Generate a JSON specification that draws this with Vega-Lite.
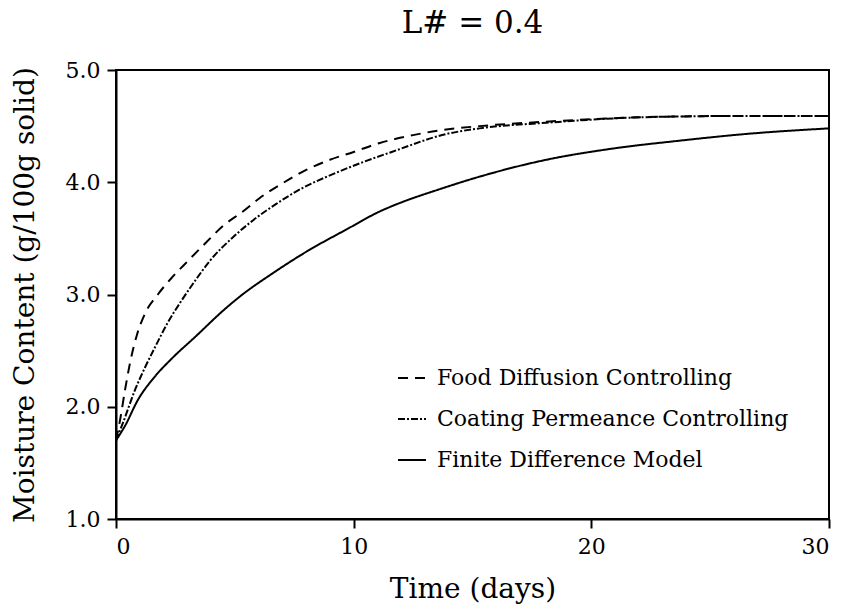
{
  "$schema": "https://vega.github.io/schema/vega-lite/v6.json",
  "width": 713,
  "height": 449,
  "autosize": {"type": "none"},
  "padding": {"left": 116, "top": 70, "right": 20, "bottom": 92},
  "background": "white",
  "title": {
    "text": "L# = 0.4",
    "font": "DejaVu Serif",
    "fontSize": 31,
    "fontWeight": "normal",
    "color": "black",
    "offset": 19
  },
  "config": {
    "view": {"stroke": "black", "strokeWidth": 2},
    "axis": {
      "grid": false,
      "domainColor": "black",
      "domainWidth": 2,
      "tickColor": "black",
      "tickWidth": 2,
      "tickSize": 9,
      "labelFont": "DejaVu Serif",
      "labelFontSize": 22,
      "labelColor": "black",
      "titleFont": "DejaVu Serif",
      "titleFontSize": 28,
      "titleFontWeight": "normal",
      "titleColor": "black"
    }
  },
  "data": {
    "values": [
      {"model": "Food Diffusion Controlling", "t": 0, "m": 1.70},
      {"model": "Food Diffusion Controlling", "t": 0.17, "m": 1.88},
      {"model": "Food Diffusion Controlling", "t": 0.38, "m": 2.15},
      {"model": "Food Diffusion Controlling", "t": 0.59, "m": 2.39},
      {"model": "Food Diffusion Controlling", "t": 0.88, "m": 2.64},
      {"model": "Food Diffusion Controlling", "t": 1.22, "m": 2.83},
      {"model": "Food Diffusion Controlling", "t": 1.76, "m": 3.00},
      {"model": "Food Diffusion Controlling", "t": 2.35, "m": 3.15},
      {"model": "Food Diffusion Controlling", "t": 3.03, "m": 3.30},
      {"model": "Food Diffusion Controlling", "t": 3.82, "m": 3.47},
      {"model": "Food Diffusion Controlling", "t": 4.5, "m": 3.61},
      {"model": "Food Diffusion Controlling", "t": 5.34, "m": 3.74},
      {"model": "Food Diffusion Controlling", "t": 6.05, "m": 3.86},
      {"model": "Food Diffusion Controlling", "t": 7.0, "m": 3.99},
      {"model": "Food Diffusion Controlling", "t": 8.0, "m": 4.11},
      {"model": "Food Diffusion Controlling", "t": 9.0, "m": 4.20},
      {"model": "Food Diffusion Controlling", "t": 10.0, "m": 4.27},
      {"model": "Food Diffusion Controlling", "t": 11.1, "m": 4.35},
      {"model": "Food Diffusion Controlling", "t": 12.5, "m": 4.42},
      {"model": "Food Diffusion Controlling", "t": 13.9, "m": 4.47},
      {"model": "Food Diffusion Controlling", "t": 15.3, "m": 4.50},
      {"model": "Food Diffusion Controlling", "t": 18.1, "m": 4.54},
      {"model": "Food Diffusion Controlling", "t": 22.3, "m": 4.58},
      {"model": "Food Diffusion Controlling", "t": 26.0, "m": 4.59},
      {"model": "Food Diffusion Controlling", "t": 30.0, "m": 4.59},
      {"model": "Coating Permeance Controlling", "t": 0, "m": 1.70},
      {"model": "Coating Permeance Controlling", "t": 0.3, "m": 1.86},
      {"model": "Coating Permeance Controlling", "t": 0.8, "m": 2.15},
      {"model": "Coating Permeance Controlling", "t": 1.22, "m": 2.35},
      {"model": "Coating Permeance Controlling", "t": 1.64, "m": 2.53},
      {"model": "Coating Permeance Controlling", "t": 2.18, "m": 2.75},
      {"model": "Coating Permeance Controlling", "t": 2.77, "m": 2.95},
      {"model": "Coating Permeance Controlling", "t": 3.32, "m": 3.12},
      {"model": "Coating Permeance Controlling", "t": 3.95, "m": 3.30},
      {"model": "Coating Permeance Controlling", "t": 4.92, "m": 3.51},
      {"model": "Coating Permeance Controlling", "t": 5.76, "m": 3.66},
      {"model": "Coating Permeance Controlling", "t": 6.76, "m": 3.81},
      {"model": "Coating Permeance Controlling", "t": 7.86, "m": 3.95},
      {"model": "Coating Permeance Controlling", "t": 9.1, "m": 4.07},
      {"model": "Coating Permeance Controlling", "t": 10.4, "m": 4.18},
      {"model": "Coating Permeance Controlling", "t": 11.6, "m": 4.27},
      {"model": "Coating Permeance Controlling", "t": 13.9, "m": 4.43},
      {"model": "Coating Permeance Controlling", "t": 15.3, "m": 4.48},
      {"model": "Coating Permeance Controlling", "t": 18.1, "m": 4.53},
      {"model": "Coating Permeance Controlling", "t": 22.3, "m": 4.58},
      {"model": "Coating Permeance Controlling", "t": 26.0, "m": 4.59},
      {"model": "Coating Permeance Controlling", "t": 30.0, "m": 4.59},
      {"model": "Finite Difference Model", "t": 0, "m": 1.70},
      {"model": "Finite Difference Model", "t": 0.38, "m": 1.83},
      {"model": "Finite Difference Model", "t": 0.92, "m": 2.06},
      {"model": "Finite Difference Model", "t": 1.64, "m": 2.27},
      {"model": "Finite Difference Model", "t": 2.35, "m": 2.43},
      {"model": "Finite Difference Model", "t": 3.32, "m": 2.62},
      {"model": "Finite Difference Model", "t": 4.58, "m": 2.87},
      {"model": "Finite Difference Model", "t": 5.2, "m": 2.98},
      {"model": "Finite Difference Model", "t": 6.6, "m": 3.19},
      {"model": "Finite Difference Model", "t": 8.0, "m": 3.38},
      {"model": "Finite Difference Model", "t": 9.7, "m": 3.58},
      {"model": "Finite Difference Model", "t": 11.1, "m": 3.74},
      {"model": "Finite Difference Model", "t": 12.0, "m": 3.82},
      {"model": "Finite Difference Model", "t": 13.5, "m": 3.93},
      {"model": "Finite Difference Model", "t": 15.3, "m": 4.05},
      {"model": "Finite Difference Model", "t": 18.1, "m": 4.20},
      {"model": "Finite Difference Model", "t": 20.9, "m": 4.30},
      {"model": "Finite Difference Model", "t": 23.7, "m": 4.37},
      {"model": "Finite Difference Model", "t": 26.5, "m": 4.43},
      {"model": "Finite Difference Model", "t": 30.0, "m": 4.48}
    ]
  },
  "mark": {"type": "line", "color": "black", "strokeWidth": 2, "interpolate": "monotone", "clip": true},
  "encoding": {
    "x": {
      "field": "t",
      "type": "quantitative",
      "title": "Time (days)",
      "scale": {"domain": [0, 30], "nice": false},
      "axis": {"values": [0, 10, 20, 30], "labelPadding": 8, "titlePadding": 18}
    },
    "y": {
      "field": "m",
      "type": "quantitative",
      "title": "Moisture Content (g/100g solid)",
      "scale": {"domain": [1, 5], "nice": false, "zero": false},
      "axis": {"values": [1, 2, 3, 4, 5], "format": ".1f", "labelPadding": 7, "titlePadding": 26}
    },
    "strokeDash": {
      "field": "model",
      "type": "nominal",
      "scale": {
        "domain": ["Food Diffusion Controlling", "Coating Permeance Controlling", "Finite Difference Model"],
        "range": [[10, 7], [7, 2, 2, 2], [1, 0]]
      },
      "legend": {
        "title": null,
        "orient": "none",
        "legendX": 281,
        "legendY": 293,
        "symbolType": "stroke",
        "symbolSize": 784,
        "symbolStrokeWidth": 2,
        "symbolStrokeColor": "black",
        "labelFont": "DejaVu Serif",
        "labelFontSize": 22,
        "labelColor": "black",
        "labelLimit": 0,
        "rowPadding": 15,
        "labelOffset": 10
      }
    }
  }
}
